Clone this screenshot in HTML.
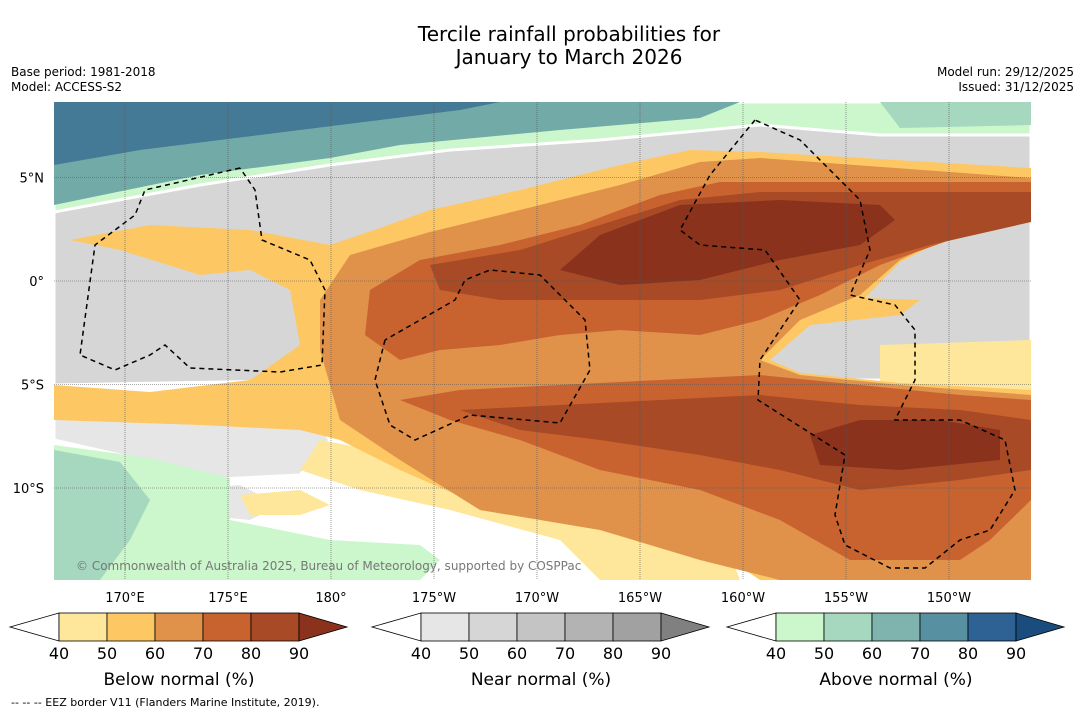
<!DOCTYPE html>
<html><head><meta charset="utf-8"><style>
body{margin:0;background:#fff;font-family:"DejaVu Sans","Liberation Sans",sans-serif}
#root{position:relative;width:1085px;height:713px;overflow:hidden;background:#fff}
</style></head><body>
<div id="root">
<svg id="svg" width="1085" height="713" xmlns="http://www.w3.org/2000/svg" font-family="DejaVu Sans,Liberation Sans,sans-serif">
<text x="569" y="41" text-anchor="middle" font-size="20">Tercile rainfall probabilities for</text>
<text x="569" y="64" text-anchor="middle" font-size="20">January to March 2026</text>
<text x="11" y="76" font-size="12">Base period: 1981-2018</text>
<text x="11" y="91" font-size="12">Model: ACCESS-S2</text>
<text x="1074" y="76" font-size="12" text-anchor="end">Model run: 29/12/2025</text>
<text x="1074" y="91" font-size="12" text-anchor="end">Issued: 31/12/2025</text>
<defs><clipPath id="mc"><rect x="54" y="102" width="977" height="478"/></clipPath></defs>
<g clip-path="url(#mc)">
<rect x="54" y="102" width="977" height="478" fill="#fff"/>
<polygon fill="#d6d6d6" stroke="#fff" stroke-width="3" points="54,205 330,150 600,130 700,118 1031,122 1031,380 330,380 54,385"/>
<polygon fill="#e6e6e6" stroke="#fff" stroke-width="3" points="54,395 200,400 300,400 330,440 300,475 200,480 120,455 54,440"/>
<polygon fill="#e6e6e6" points="160,490 240,485 280,505 250,520 170,512"/>
<polygon fill="#ccf7cc" stroke="#fff" stroke-width="3" points="54,102 1031,102 1031,135 880,135 760,125 600,140 450,150 330,165 200,185 54,212"/>
<polygon fill="#72aaa8" points="54,102 740,102 700,118 560,130 400,145 330,158 200,175 54,205"/>
<polygon fill="#447a96" points="54,102 500,102 460,110 380,120 300,130 220,140 140,150 54,165"/>
<polygon fill="#a6d8bf" points="880,102 1031,102 1031,125 900,128"/>
<polygon fill="#ccf7cc" points="54,445 150,458 230,478 230,520 330,540 420,545 440,560 420,580 54,580"/>
<polygon fill="#a6d8bf" points="54,450 120,462 150,500 130,540 100,580 54,580"/>
<polygon fill="#fee79a" points="320,440 400,455 500,480 560,500 720,530 740,580 600,580 560,540 450,510 360,490 300,470"/>
<polygon fill="#fee79a" points="240,495 300,490 330,505 300,515 250,515"/>
<polygon fill="#fee79a" points="880,345 1031,340 1031,400 880,390"/>
<polygon fill="#fdc863" points="54,385 150,392 250,380 300,345 290,290 250,270 200,275 120,250 70,240 150,225 250,230 330,245 380,228 430,210 520,190 620,165 690,150 760,152 1031,168 1031,205 960,232 900,262 865,298 920,300 900,315 810,325 770,360 800,373 900,383 1031,390 1031,580 760,580 700,540 600,520 480,505 400,470 340,440 300,430 200,425 54,420"/>
<polygon fill="#e0914a" points="320,300 350,255 430,232 520,210 620,185 700,162 760,158 1031,178 1031,200 960,230 900,260 860,295 800,320 760,360 800,375 900,385 1031,395 1031,580 780,580 700,560 600,530 480,510 400,460 340,420 320,350"/>
<polygon fill="#c8622f" points="365,335 370,290 420,260 500,245 580,225 660,195 720,182 1031,182 1031,212 950,240 880,265 820,295 760,320 700,335 620,330 560,335 500,345 440,350 400,360"/>
<polygon fill="#c8622f" points="400,400 460,390 560,385 660,380 760,375 860,385 960,395 1031,400 1031,500 990,540 960,560 850,560 780,520 700,490 600,470 520,440 450,420"/>
<polygon fill="#a84a25" points="430,265 520,250 600,225 680,200 760,192 1031,192 1031,222 930,245 860,265 780,290 700,300 600,300 500,300 440,290"/>
<polygon fill="#a84a25" points="460,410 560,405 660,400 760,395 860,405 960,410 1031,420 1031,470 960,480 860,490 780,470 700,455 600,440 520,430"/>
<polygon fill="#8b321d" points="560,270 600,235 680,205 780,200 880,205 895,220 860,245 780,260 700,280 620,285"/>
<polygon fill="#8b321d" points="810,435 860,420 940,420 1000,430 1000,460 900,470 820,465"/>
<g id="grid"></g>
<g fill="none" stroke="#000" stroke-width="1.5" stroke-dasharray="5,4">
<polyline points="240,168 145,190 135,215 95,245 80,355 115,370 150,355 165,345 190,368 280,372 322,365 325,290 310,260 262,240 255,190 240,168"/>
<polyline points="385,340 375,380 390,425 415,440 470,415 560,423 590,370 585,320 540,275 490,270 465,280 455,300 420,320 385,340"/>
<polyline points="755,120 710,175 680,230 700,245 765,250 800,300 760,360 758,400 845,455 835,515 845,545 890,568 925,568 960,540 990,530 1015,490 1005,440 960,420 895,420 915,380 915,330 895,305 850,295 870,250 860,200 800,140 755,120"/>
</g>
<text x="76" y="570" font-size="12" fill="#777">© Commonwealth of Australia 2025, Bureau of Meteorology, supported by COSPPac</text>
</g>
<g id="axes"></g>
<g id="bars"></g>
<text x="11" y="706" font-size="11">--  --  -- EEZ border V11 (Flanders Marine Institute, 2019).</text>
</svg>
</div>
<script>
const lonLabels=["170°E","175°E","180°","175°W","170°W","165°W","160°W","155°W","150°W"];
const lonValues=[170,175,180,185,190,195,200,205,210];
const latLabels=["5°N","0°","5°S","10°S"];
const latValues=[5,0,-5,-10];
const tickLabels=[40,50,60,70,80,90];
const belowColors=["#fee79a","#fdc863","#e0914a","#c8622f","#a84a25","#8b321d"];
const nearColors=["#e6e6e6","#d6d6d6","#c4c4c4","#b3b3b3","#a1a1a1","#808080"];
const aboveColors=["#ccf7cc","#a6d8bf","#7fb3ad","#5791a1","#2e6294","#1a4d7e"];
const barTitles=["Below normal (%)","Near normal (%)","Above normal (%)"];
const NS="http://www.w3.org/2000/svg";
const xLon=l=>125+(l-170)*20.6;
const yLat=l=>281-l*20.7;
function mk(t,a,p){const e=document.createElementNS(NS,t);for(const k in a)e.setAttribute(k,a[k]);p.appendChild(e);return e;}
const grid=document.getElementById('grid'),axes=document.getElementById('axes'),bars=document.getElementById('bars');
lonValues.forEach((v,i)=>{
 const l=mk('line',{x1:xLon(v),x2:xLon(v),y1:102,y2:580,stroke:'#555','stroke-width':0.6,'stroke-dasharray':'1,1'},grid);
 
 
 const t=mk('text',{x:xLon(v),y:602,'text-anchor':'middle','font-size':13},axes);
 t.textContent=lonLabels[i];
 
 
});
latValues.forEach((v,i)=>{
 const l=mk('line',{x1:54,x2:1031,y1:yLat(v),y2:yLat(v),stroke:'#555','stroke-width':0.6,'stroke-dasharray':'1,1'},grid);
 
 
 const t=mk('text',{x:44,y:yLat(v)+5,'text-anchor':'end','font-size':13},axes);
 t.textContent=latLabels[i];
 
 
});
[[10,belowColors],[372,nearColors],[727,aboveColors]].forEach(([x0,cols],bi)=>{
 const g=mk('g',{},bars);
 
 
 const y0=613,h=28,w=48,s=x0+49;
 const tl=mk('polygon',{points:`${x0},${y0+h/2} ${s},${y0} ${s},${y0+h}`,fill:'#fff',stroke:'#000','stroke-width':0.8},g);
 
 
 cols.forEach((c,i)=>{
  if(i<5){const r=mk('rect',{x:s+i*w,y:y0,width:w,height:h,fill:c,stroke:'#000','stroke-width':0.8},g);
   
   }
  else{const p=mk('polygon',{points:`${s+5*w},${y0} ${s+6*w},${y0+h/2} ${s+5*w},${y0+h}`,fill:c,stroke:'#000','stroke-width':0.8},g);
   
   }
 });
 tickLabels.forEach((v,i)=>{
  const t=mk('text',{x:s+i*w,y:659,'text-anchor':'middle','font-size':16},g);
  t.textContent=v;
  
  
 });
 const tt=mk('text',{x:s+2.5*w,y:685,'text-anchor':'middle','font-size':17},g);
 tt.textContent=barTitles[bi];
 
 
});
</script>
</body></html>
